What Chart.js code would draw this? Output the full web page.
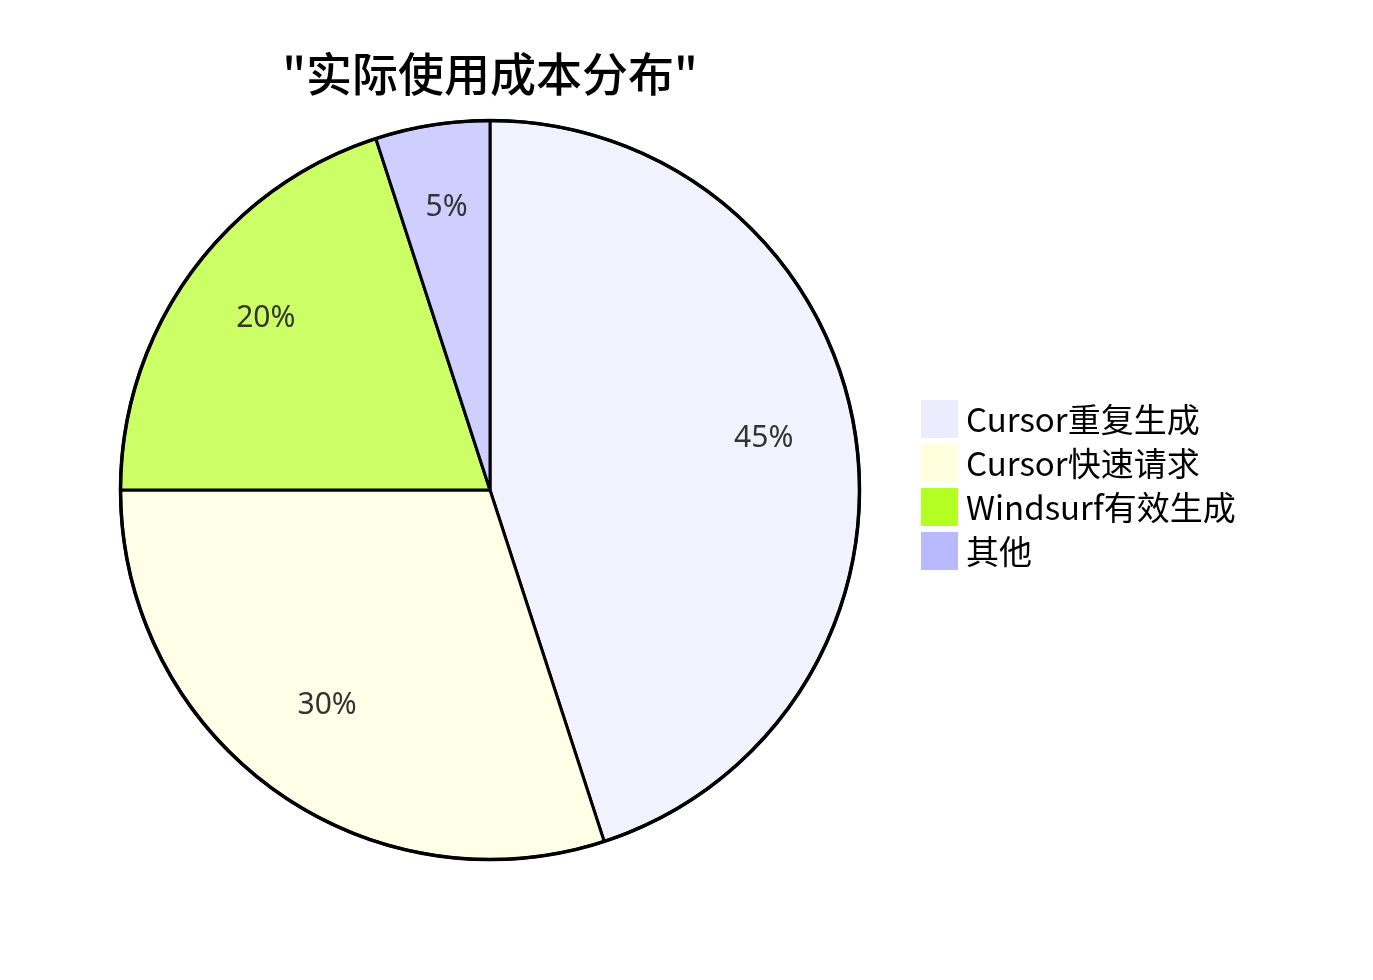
<!DOCTYPE html>
<html>
<head>
<meta charset="utf-8">
<script src="https://cdn.jsdelivr.net/npm/chart.js@4"></script>
<style>
  body { margin: 0; background: #fff; }
  canvas { display: block; }
</style>
</head>
<body>
<canvas id="costPie" width="1373" height="980"></canvas>
<script>
var chartTitle = '"实际使用成本分布"';
var categories = ["Cursor重复生成", "Cursor快速请求", "Windsurf有效生成", "其他"];
var values = [45, 30, 20, 5];
// 图例颜色 / 扇区颜色(扇区是半透明的，看起来更浅)
var legendColors = ["#ECECFF", "#FFFFDE", "#B3FF22", "#B9B9FF"];
var sliceColors = ["#F2F2FF", "#FFFFE8", "#CCFF66", "#CFCFFF"];

var cjkFont = '"Noto Sans CJK SC", "Noto Sans", sans-serif';

// 제목, 퍼센트, 범례를 직접 그림
var piePainter = {
  id: 'piePainter',
  afterDatasetsDraw: function(chart){
    var ctx = chart.ctx;
    var arcs = chart.getDatasetMeta(0).data;
    var total = values.reduce(function(a, b){ return a + b; }, 0);

    // outer ring
    var a0 = arcs[0];
    ctx.save();
    ctx.beginPath();
    ctx.arc(a0.x, a0.y, a0.outerRadius, 0, Math.PI * 2);
    ctx.lineWidth = 3.5;
    ctx.strokeStyle = '#000';
    ctx.stroke();

    // percent labels, baseline at 0.75 radius
    ctx.fillStyle = '#333';
    ctx.font = '30px "Noto Sans", sans-serif';
    ctx.textAlign = 'center';
    ctx.textBaseline = 'alphabetic';
    for(var i=0; i<arcs.length; i++){
      var arc = arcs[i];
      var mid = (arc.startAngle + arc.endAngle) / 2;
      var r = arc.outerRadius * 0.75;
      var pct = Math.round(values[i] / total * 100) + '%';
      ctx.fillText(pct, arc.x + Math.cos(mid) * r, arc.y + Math.sin(mid) * r);
    }

    // title
    ctx.fillStyle = '#000';
    ctx.font = '500 46px ' + cjkFont;
    ctx.textBaseline = 'middle';
    ctx.fillText(chartTitle, a0.x, 74);

    // legend
    ctx.textAlign = 'left';
    ctx.font = '33px ' + cjkFont;
    for(var j=0; j<categories.length; j++){
      var top = 400 + j * 44;
      ctx.fillStyle = legendColors[j];
      ctx.fillRect(921, top, 37, 38);
      ctx.fillStyle = '#000';
      ctx.fillText(categories[j], 966, top + 19);
    }
    ctx.restore();
  }
};

var ctx = document.getElementById('costPie').getContext('2d');
new Chart(ctx, {
  type: 'pie',
  data: {
    labels: categories,
    datasets: [{
      data: values,
      backgroundColor: sliceColors,
      borderColor: '#000',
      borderWidth: 3
    }]
  },
  options: {
    responsive: false,
    animation: false,
    layout: { padding: { left: 119, right: 512, top: 119, bottom: 119 } },
    plugins: {
      legend: { display: false },
      title: { display: false },
      tooltip: { enabled: false }
    }
  },
  plugins: [piePainter]
});
</script>
</body>
</html>
